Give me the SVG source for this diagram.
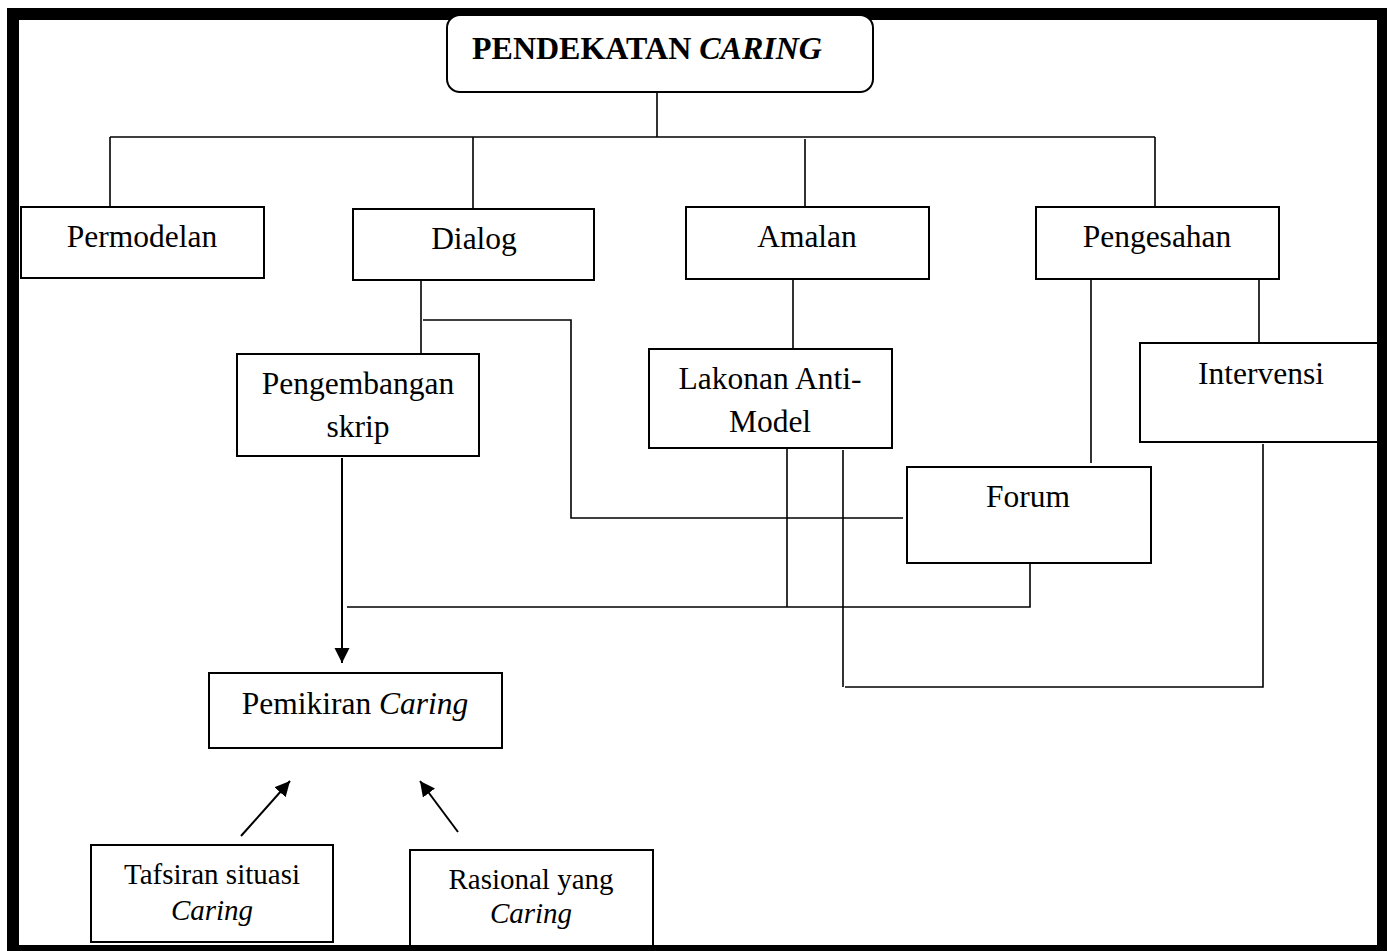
<svg xmlns="http://www.w3.org/2000/svg" width="1387" height="951" viewBox="0 0 1387 951">
<style>
.box{fill:#fff;stroke:#000;stroke-width:2}
.ln{fill:none;stroke:#000;stroke-width:1.6}
.ar{fill:none;stroke:#000;stroke-width:2}
.t{font-family:"Liberation Serif","Times New Roman",serif;font-size:31.5px;fill:#000;text-anchor:middle}
.s{font-family:"Liberation Serif","Times New Roman",serif;font-size:29px;fill:#000;text-anchor:middle}
.i{font-style:italic}
</style>
<defs>
<marker id="ah" markerUnits="userSpaceOnUse" markerWidth="16" markerHeight="16" refX="15" refY="7.5" orient="auto">
<path d="M0,0 L15,7.5 L0,15 Z" fill="#000"/>
</marker>
</defs>
<rect x="0" y="0" width="1387" height="951" fill="#fff"/>
<rect id="frame" x="13" y="14" width="1370" height="937" fill="none" stroke="#000" stroke-width="12"/>
<g id="connectors">
<path class="ln" d="M657,87 V137 M110,137 H1155 M110,137 V207 M473,137 V209 M805,139 V207 M1155,137 V208"/>
<path class="ln" d="M421,281 V353 M423,320 H571 V518 H903"/>
<path class="ln" d="M793,279 V349"/>
<path class="ln" d="M787,449 V607 M347,607 H1030 V563"/>
<path class="ln" d="M843,450 V687 M845,687 H1263 V444"/>
<path class="ln" d="M1091,279 V463 M1259,279 V343"/>
<path class="ar" d="M342,458 V663" marker-end="url(#ah)"/>
<path class="ar" d="M241,836 L290,781" marker-end="url(#ah)"/>
<path class="ar" d="M458,832 L420,781" marker-end="url(#ah)"/>
</g>
<g id="n-pendekatan">
<rect class="box" x="447" y="15" width="426" height="77" rx="13"/>
<text x="472" y="59" font-family="'Liberation Serif','Times New Roman',serif" font-size="32" font-weight="bold">PENDEKATAN <tspan font-style="italic">CARING</tspan></text>
</g>
<g id="n-permodelan">
<rect class="box" x="21" y="207" width="243" height="71"/>
<text class="t" x="142" y="247">Permodelan</text>
</g>
<g id="n-dialog">
<rect class="box" x="353" y="209" width="241" height="71"/>
<text class="t" x="474" y="249">Dialog</text>
</g>
<g id="n-amalan">
<rect class="box" x="686" y="207" width="243" height="72"/>
<text class="t" x="807" y="247">Amalan</text>
</g>
<g id="n-pengesahan">
<rect class="box" x="1036" y="207" width="243" height="72"/>
<text class="t" x="1157" y="247">Pengesahan</text>
</g>
<g id="n-pengembangan">
<rect class="box" x="237" y="354" width="242" height="102"/>
<text class="t" x="358" y="394">Pengembangan</text>
<text class="t" x="358" y="437">skrip</text>
</g>
<g id="n-lakonan">
<rect class="box" x="649" y="349" width="243" height="99"/>
<text class="t" x="770" y="389">Lakonan Anti-</text>
<text class="t" x="770" y="432">Model</text>
</g>
<g id="n-intervensi">
<rect class="box" x="1140" y="343" width="238" height="99"/>
<text class="t" x="1261" y="384">Intervensi</text>
</g>
<g id="n-forum">
<rect class="box" x="907" y="467" width="244" height="96"/>
<text class="t" x="1028" y="507">Forum</text>
</g>
<g id="n-pemikiran">
<rect class="box" x="209" y="673" width="293" height="75"/>
<text class="t" x="355" y="714">Pemikiran <tspan class="i">Caring</tspan></text>
</g>
<g id="n-tafsiran">
<rect class="box" x="91" y="845" width="242" height="97"/>
<text class="s" x="212" y="884">Tafsiran situasi</text>
<text class="s i" x="212" y="920">Caring</text>
</g>
<g id="n-rasional">
<rect class="box" x="410" y="850" width="243" height="96"/>
<text class="s" x="531" y="889">Rasional yang</text>
<text class="s i" x="531" y="923">Caring</text>
</g>
</svg>
